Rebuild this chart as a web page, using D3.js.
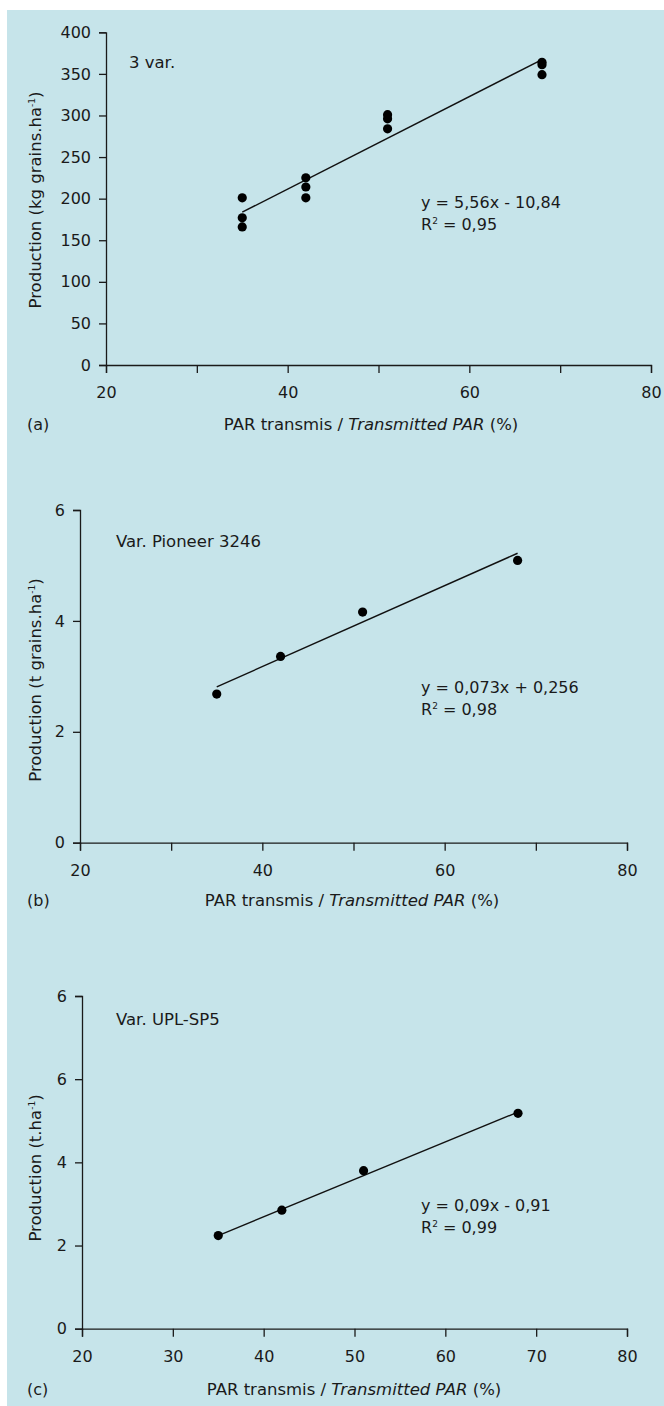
<!DOCTYPE html>
<html>
<head>
<meta charset="utf-8">
<script src="https://cdn.jsdelivr.net/npm/d3@7"></script>
<style>
  body { margin: 0; background: #fff; }
  text { font-family: "DejaVu Sans", sans-serif; fill: #1a1a1a; }
  .axis path, .axis line { stroke: #1a1a1a; stroke-width: 1.3; }
</style>
</head>
<body>
<div class="canvas"></div>
<script>
// transmitted PAR (%) and yield
const parA = [35, 35, 35, 42, 42, 42, 51, 51, 51, 68, 68, 68];
const prodA = [201, 177, 166, 225, 214, 201, 301, 296, 284, 364, 361, 349];
const fitA = [5.56, -10.84];

const parB = [35, 42, 51, 68];
const prodB = [2.68, 3.36, 4.16, 5.09];
const fitB = [0.073, 0.256];

const parC = [35, 42, 51, 68];
const prodC = [2.24, 2.85, 3.80, 5.18];
const fitC = [0.09, -0.91];

// tick values + labels (panel c top label reads "6" in the original)
const xTicks = [20, 30, 40, 50, 60, 70, 80];
const xLabelsAB = [20, 40, 60, 80];
const xLabelsC = [20, 30, 40, 50, 60, 70, 80];
const yTicksA = [0, 50, 100, 150, 200, 250, 300, 350, 400];
const yLabelsA = ['0', '50', '100', '150', '200', '250', '300', '350', '400'];
const yTicksB = [0, 2, 4, 6];
const yLabelsB = ['0', '2', '4', '6'];
const yTicksC = [0, 2, 4, 6, 8];
const yLabelsC = ['0', '2', '4', '6', '6'];

const FS = '16px';
const FT = '16.5px'; // titles a bit wider in the original

const svg = d3.select('.canvas').append('svg')
    .attr('width', 664)
    .attr('height', 1406);

svg.append('rect')
    .attr('x', 7).attr('y', 10)
    .attr('width', 657).attr('height', 1396)
    .attr('fill', '#c6e4ea');

function panel(o) {
  const x = d3.scaleLinear().domain([20, 80]).range([o.left, o.right]);
  const y = d3.scaleLinear().domain([0, o.yMax]).range([o.bottom, o.top]);
  const g = svg.append('g');

  g.append('g')
      .attr('class', 'axis')
      .attr('transform', `translate(0,${o.bottom})`)
      .call(d3.axisBottom(x)
          .tickValues(xTicks)
          .tickSize(8)
          .tickPadding(14)
          .tickFormat(d => o.xLabels.includes(d) ? d : ''))
      .selectAll('text').style('font-size', FS);

  g.append('g')
      .attr('class', 'axis')
      .attr('transform', `translate(${o.left},0)`)
      .call(d3.axisLeft(y)
          .tickValues(o.yTicks)
          .tickSize(7)
          .tickPadding(8)
          .tickFormat((d, i) => o.yLabels[i]))
      .selectAll('text').style('font-size', FS);

  // regression line over the observed range
  const line = d3.line().x(d => x(d)).y(d => y(o.fit[0] * d + o.fit[1]));
  g.append('path')
      .attr('d', line(d3.extent(o.xs)))
      .attr('fill', 'none')
      .attr('stroke', '#111')
      .attr('stroke-width', 1.4);

  g.selectAll('circle')
      .data(o.xs.map((d, i) => [d, o.ys[i]]))
      .join('circle')
      .attr('cx', d => x(d[0]))
      .attr('cy', d => y(d[1]))
      .attr('r', 4.6)
      .attr('fill', '#000');

  g.append('text')
      .attr('x', o.nameX).attr('y', o.nameY)
      .style('font-size', FT)
      .text(o.name);

  g.append('text')
      .attr('x', 421).attr('y', o.eqY)
      .style('font-size', FS)
      .text(o.eq);

  const r2 = g.append('text')
      .attr('x', 421).attr('y', o.eqY + 22)
      .style('font-size', FS);
  r2.append('tspan').text('R');
  r2.append('tspan').attr('dy', -6).style('font-size', '9px').text('2');
  r2.append('tspan').attr('dy', 6).text(' = ' + o.r2);

  // y axis title
  const yt = g.append('text')
      .attr('transform', `translate(41,${o.yTitleY}) rotate(-90)`)
      .attr('text-anchor', 'middle')
      .style('font-size', FT);
  yt.append('tspan').text(o.yTitle);
  yt.append('tspan').attr('dy', -6).style('font-size', '9px').text('-1');
  yt.append('tspan').attr('dy', 6).text(')');

  // x axis title
  const xt = g.append('text')
      .attr('x', o.xTitleX).attr('y', o.titleY)
      .attr('text-anchor', 'middle')
      .style('font-size', FT);
  xt.append('tspan').text('PAR transmis / ');
  xt.append('tspan').style('font-style', 'italic').text('Transmitted PAR');
  xt.append('tspan').text(' (%)');

  g.append('text')
      .attr('x', 27).attr('y', o.titleY)
      .style('font-size', FS)
      .text(o.tag);
}

panel({
  left: 106, right: 651, top: 32.3, bottom: 365, yMax: 400,
  xs: parA, ys: prodA, fit: fitA,
  xLabels: xLabelsAB, yTicks: yTicksA, yLabels: yLabelsA,
  name: '3 var.', nameX: 129, nameY: 68,
  eq: 'y = 5,56x - 10,84', r2: '0,95', eqY: 208,
  yTitle: 'Production (kg grains.ha', yTitleY: 200,
  xTitleX: 371, titleY: 430, tag: '(a)'
});

panel({
  left: 80, right: 627, top: 510, bottom: 842.7, yMax: 6,
  xs: parB, ys: prodB, fit: fitB,
  xLabels: xLabelsAB, yTicks: yTicksB, yLabels: yLabelsB,
  name: 'Var. Pioneer 3246', nameX: 116, nameY: 547,
  eq: 'y = 0,073x + 0,256', r2: '0,98', eqY: 693,
  yTitle: 'Production (t grains.ha', yTitleY: 680,
  xTitleX: 352, titleY: 906, tag: '(b)'
});

panel({
  left: 82, right: 627, top: 996, bottom: 1328.7, yMax: 8,
  xs: parC, ys: prodC, fit: fitC,
  xLabels: xLabelsC, yTicks: yTicksC, yLabels: yLabelsC,
  name: 'Var. UPL-SP5', nameX: 116, nameY: 1025,
  eq: 'y = 0,09x - 0,91', r2: '0,99', eqY: 1211,
  yTitle: 'Production (t.ha', yTitleY: 1168,
  xTitleX: 354, titleY: 1395, tag: '(c)'
});
</script>
</body>
</html>
